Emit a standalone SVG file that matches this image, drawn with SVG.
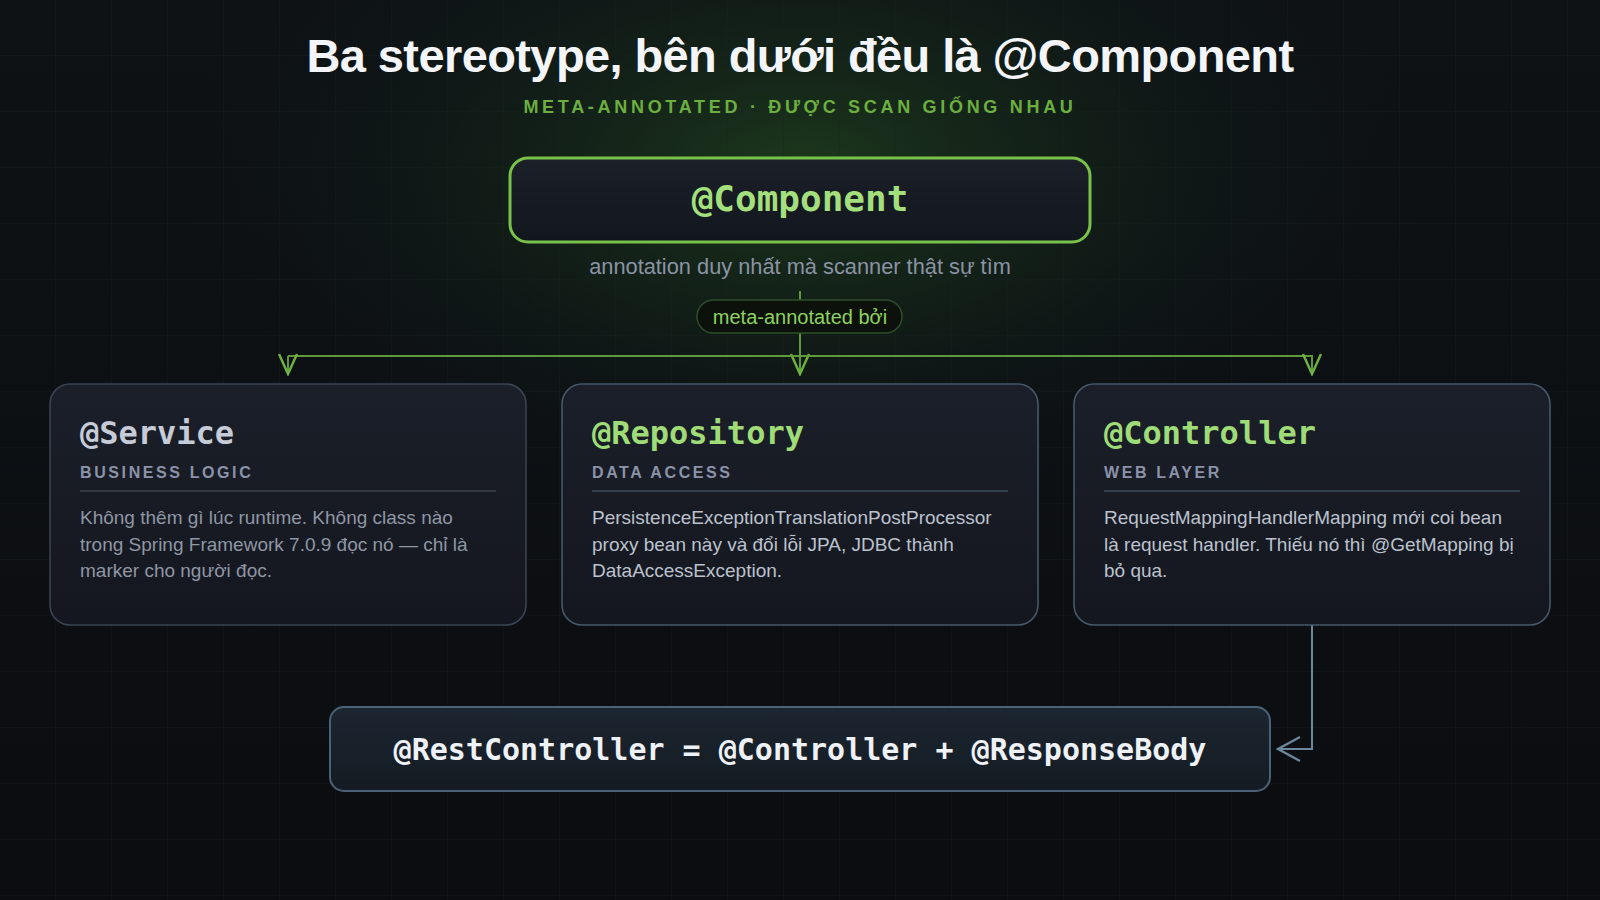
<svg xmlns="http://www.w3.org/2000/svg" width="1600" height="900" viewBox="0 0 1600 900">
<defs>
<radialGradient id="glow" cx="800" cy="170" r="640" gradientUnits="userSpaceOnUse" gradientTransform="translate(800 170) scale(1 0.55) translate(-800 -170)">
<stop offset="0" stop-color="#1e3d1d" stop-opacity="0.9"/>
<stop offset="0.5" stop-color="#14261a" stop-opacity="0.5"/>
<stop offset="1" stop-color="#0d1115" stop-opacity="0"/>
</radialGradient>
<linearGradient id="bg" x1="0" y1="0" x2="0" y2="1">
<stop offset="0" stop-color="#0e1215"/>
<stop offset="1" stop-color="#0b0d11"/>
</linearGradient>
<pattern id="grid" width="56" height="56" patternUnits="userSpaceOnUse">
<path d="M56 0V56M0 56H56" fill="none" stroke="#1a2020" stroke-width="1" opacity="0.6"/>
</pattern>
<linearGradient id="cardFill" x1="0" y1="0" x2="0" y2="1">
<stop offset="0" stop-color="#1b1f29"/>
<stop offset="1" stop-color="#14171f"/>
</linearGradient>
<linearGradient id="compFill" x1="0" y1="0" x2="0" y2="1">
<stop offset="0" stop-color="#1b2029"/>
<stop offset="1" stop-color="#12161d"/>
</linearGradient>
<linearGradient id="restFill" x1="0" y1="0" x2="0" y2="1">
<stop offset="0" stop-color="#1c2630"/>
<stop offset="1" stop-color="#141b23"/>
</linearGradient>
<marker id="arrG" viewBox="0 0 24 20" markerWidth="24" markerHeight="20" refX="22" refY="10" orient="auto" markerUnits="userSpaceOnUse">
<path d="M2 1 L22 10 L2 19" fill="none" stroke="#6fb142" stroke-width="2.4" stroke-linejoin="miter"/>
</marker>
<marker id="arrB" viewBox="0 0 26 28" markerWidth="26" markerHeight="28" refX="24" refY="14" orient="auto" markerUnits="userSpaceOnUse">
<path d="M2 2 L24 14 L2 26" fill="none" stroke="#6b879c" stroke-width="2.4"/>
</marker>
</defs>
<style>
.title{font-family:"Liberation Sans",Arial,sans-serif;font-weight:700;font-size:47px;fill:#f3f5f9;letter-spacing:-0.6px}
.sub{font-family:"Liberation Sans",Arial,sans-serif;font-weight:700;font-size:18px;fill:#6cae40;letter-spacing:3.7px}
.mono{font-family:"DejaVu Sans Mono","Liberation Mono",monospace;font-weight:700}
.note{font-family:"Liberation Sans",Arial,sans-serif;font-size:21.8px;fill:#8a93a3}
.pilltxt{font-family:"Liberation Sans",Arial,sans-serif;font-size:20px;fill:#8fd162}
.card{fill:url(#cardFill);stroke:#44586a;stroke-width:1.6}
.cardDim{fill:url(#cardFill);stroke:#3a4352;stroke-width:1.6}
.ctitle{font-size:32px;fill:#9fdc78}
.label{font-family:"Liberation Sans",Arial,sans-serif;font-weight:700;font-size:16px;fill:#8a93a8;letter-spacing:2.6px}
.div{stroke:#3d4a58;stroke-width:1.5}
.body{font-family:"Liberation Sans",Arial,sans-serif;font-size:19px;fill:#bcc2ce}
.bodyDim{font-family:"Liberation Sans",Arial,sans-serif;font-size:19px;fill:#8f96a4}
.lineG{fill:none;stroke:#5e9a3a;stroke-width:2}
.lineB{fill:none;stroke:#6b879c;stroke-width:2}
</style>
<rect width="1600" height="900" fill="url(#bg)"/>
<rect width="1600" height="900" fill="url(#glow)"/>
<rect width="1600" height="900" fill="url(#grid)"/>

<text class="title" x="800" y="72" text-anchor="middle">Ba stereotype, bên dưới đều là @Component</text>
<text class="sub" x="800" y="113" text-anchor="middle">META-ANNOTATED · ĐƯỢC SCAN GIỐNG NHAU</text>

<g id="connectors">
<path class="lineG" d="M800 291 V374" marker-end="url(#arrG)"/>
<path class="lineG" d="M288 356 H1312 V374" marker-end="url(#arrG)"/>
<path class="lineG" d="M288 356 V374" marker-end="url(#arrG)"/>
<path class="lineB" d="M1312 625 V749 H1278" marker-end="url(#arrB)"/>
</g>

<g id="component">
<rect x="510" y="158" width="580" height="84" rx="18" fill="url(#compFill)" stroke="#79c24a" stroke-width="3"/>
<text class="mono" x="800" y="211" text-anchor="middle" font-size="36" fill="#a3df7c">@Component</text>
<text class="note" x="800" y="274" text-anchor="middle">annotation duy nhất mà scanner thật sự tìm</text>
</g>

<g id="pill">
<rect x="697" y="300" width="205" height="33" rx="16.5" fill="#0c110c" stroke="#2f4d2a" stroke-width="1.5"/>
<text class="pilltxt" x="800" y="323.5" text-anchor="middle">meta-annotated bởi</text>
</g>

<g id="service">
<rect class="cardDim" x="50" y="384" width="476" height="241" rx="20"/>
<text class="mono ctitle" x="80" y="444" style="fill:#c6cbd8">@Service</text>
<text class="label" x="80" y="478">BUSINESS LOGIC</text>
<line class="div" x1="80" y1="491" x2="496" y2="491" style="stroke:#3a404c"/>
<text class="bodyDim" x="80" y="524">Không thêm gì lúc runtime. Không class nào</text>
<text class="bodyDim" x="80" y="550.5">trong Spring Framework 7.0.9 đọc nó — chỉ là</text>
<text class="bodyDim" x="80" y="577">marker cho người đọc.</text>
</g>

<g id="repository">
<rect class="card" x="562" y="384" width="476" height="241" rx="20"/>
<text class="mono ctitle" x="592" y="444">@Repository</text>
<text class="label" x="592" y="478">DATA ACCESS</text>
<line class="div" x1="592" y1="491" x2="1008" y2="491"/>
<text class="body" x="592" y="524">PersistenceExceptionTranslationPostProcessor</text>
<text class="body" x="592" y="550.5">proxy bean này và đổi lỗi JPA, JDBC thành</text>
<text class="body" x="592" y="577">DataAccessException.</text>
</g>

<g id="controller">
<rect class="card" x="1074" y="384" width="476" height="241" rx="20"/>
<text class="mono ctitle" x="1104" y="444">@Controller</text>
<text class="label" x="1104" y="478">WEB LAYER</text>
<line class="div" x1="1104" y1="491" x2="1520" y2="491"/>
<text class="body" x="1104" y="524">RequestMappingHandlerMapping mới coi bean</text>
<text class="body" x="1104" y="550.5">là request handler. Thiếu nó thì @GetMapping bị</text>
<text class="body" x="1104" y="577">bỏ qua.</text>
</g>

<g id="restcontroller">
<rect x="330" y="707" width="940" height="84" rx="14" fill="url(#restFill)" stroke="#4b6276" stroke-width="2"/>
<text class="mono" x="800" y="760" text-anchor="middle" font-size="30" fill="#eef1f6">@RestController = @Controller + @ResponseBody</text>
</g>
</svg>
